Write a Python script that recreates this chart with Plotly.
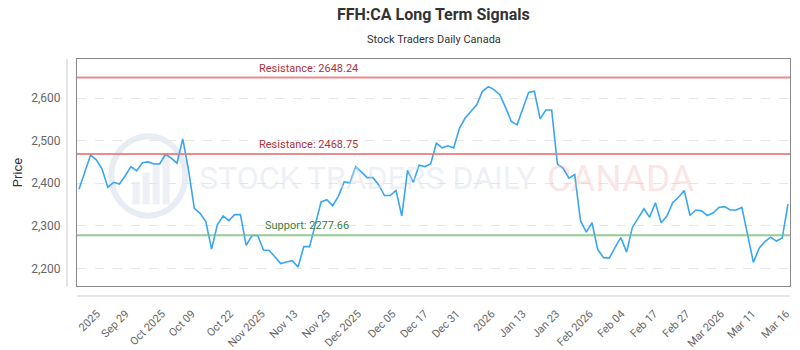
import plotly.graph_objects as go

# ---- data ----
prices = [2386, 2427, 2466, 2455, 2433, 2390, 2402, 2398, 2417, 2439,
          2429, 2448, 2450, 2445, 2445, 2468, 2459, 2447, 2504, 2431,
          2341, 2329, 2310, 2245, 2302, 2323, 2312, 2326, 2326, 2254,
          2277, 2277, 2243, 2242, 2227, 2211, 2215, 2218, 2203, 2251,
          2251, 2304, 2356, 2361, 2347, 2369, 2403, 2401, 2439, 2426,
          2413, 2413, 2396, 2371, 2371, 2383, 2323, 2430, 2402, 2442,
          2439, 2445, 2494, 2483, 2488, 2483, 2529, 2553, 2568, 2584,
          2616, 2627, 2620, 2608, 2578, 2545, 2537, 2576, 2613, 2616,
          2551, 2572, 2572, 2445, 2435, 2412, 2420, 2312, 2285, 2307,
          2244, 2225, 2224, 2249, 2272, 2238, 2296, 2318, 2340, 2320,
          2354, 2307, 2323, 2354, 2367, 2383, 2324, 2337, 2335, 2324,
          2330, 2343, 2345, 2337, 2337, 2343, 2278, 2214, 2247, 2263,
          2273, 2264, 2271, 2351]
idx = list(range(len(prices)))

tick_labels = ["2025", "Sep 29", "Oct 2025", "Oct 09", "Oct 22", "Nov 2025",
               "Nov 13", "Nov 25", "Dec 2025", "Dec 05", "Dec 17", "Dec 31",
               "2026", "Jan 13", "Jan 23", "Feb 2026", "Feb 04", "Feb 17",
               "Feb 27", "Mar 2026", "Mar 11", "Mar 16"]
tick_idx = [3.1, 8.1, 14.4, 19.6, 26.2, 31.7, 37.4, 43.0, 48.4, 54.4, 60.0,
            65.5, 71.6, 77.0, 82.8, 88.6, 94.1, 99.8, 105.4, 111.4, 116.8, 122.7]

resistance_hi = 2648.24
resistance_lo = 2468.75
support = 2277.66

TITLE_FONT = "Roboto, Liberation Sans, sans-serif"
BODY_FONT = "Roboto, Open Sans, Liberation Sans, sans-serif"
WM_FONT = "Roboto, sans-serif"

fig = go.Figure()
fig.add_trace(go.Scatter(x=idx, y=prices, mode="lines",
                         line=dict(color="#3aa6f2", width=1.6),
                         hoverinfo="skip", showlegend=False))

shapes = []
for lvl, col in [(resistance_hi, "rgba(232,120,120,0.85)"),
                 (resistance_lo, "rgba(232,120,120,0.85)"),
                 (support, "rgba(120,190,120,0.8)")]:
    shapes.append(dict(type="line", xref="paper", yref="y", x0=0, x1=1,
                       y0=lvl, y1=lvl, line=dict(color=col, width=2), layer="above"))
shapes.append(dict(type="line", xref="paper", yref="paper", x0=-0.014, x1=-0.014,
                   y0=-0.002, y1=1.0, line=dict(color="#cccccc", width=1)))
shapes.append(dict(type="line", xref="paper", yref="paper", x0=0, x1=1,
                   y0=-0.044, y1=-0.044, line=dict(color="#cccccc", width=1)))
shapes.append(dict(type="circle", xref="paper", yref="paper", x0=0.048, x1=0.152,
                   y0=0.31, y1=0.66, line=dict(color="rgba(205,213,230,0.45)", width=6),
                   layer="below"))
for bx, bh in [(0.078, 0.10), (0.092, 0.14), (0.106, 0.18), (0.120, 0.22)]:
    shapes.append(dict(type="rect", xref="paper", yref="paper", x0=bx, x1=bx + 0.01,
                       y0=0.36, y1=0.36 + bh, fillcolor="rgba(205,213,230,0.35)",
                       line=dict(width=0), layer="below"))

annotations = [
    dict(text="Resistance: 2648.24", xref="paper", yref="y", x=0.2525, y=resistance_hi,
         xanchor="left", yanchor="bottom", yshift=1, showarrow=False,
         font=dict(family=BODY_FONT, size=11, color="#b0323a")),
    dict(text="Resistance: 2468.75", xref="paper", yref="y", x=0.2525, y=resistance_lo,
         xanchor="left", yanchor="bottom", yshift=1, showarrow=False,
         font=dict(family=BODY_FONT, size=11, color="#b0323a")),
    dict(text="Support: 2277.66", xref="paper", yref="y", x=0.261, y=support,
         xanchor="left", yanchor="bottom", yshift=1, showarrow=False,
         font=dict(family=BODY_FONT, size=11, color="#3d7f3d")),
    dict(text="STOCK TRADERS DAILY", xref="paper", yref="paper", x=0.407, y=0.475,
         xanchor="center", yanchor="middle", showarrow=False,
         font=dict(family=WM_FONT, size=32, color="rgba(215,222,235,0.45)")),
    dict(text="CANADA", xref="paper", yref="paper", x=0.762, y=0.475,
         xanchor="center", yanchor="middle", showarrow=False,
         font=dict(family=WM_FONT, size=37, color="rgba(245,180,180,0.35)")),
    dict(text="<b>FFH:CA Long Term Signals</b>", xref="paper", yref="paper",
         x=0.5, y=1.194, xanchor="center", yanchor="middle", showarrow=False,
         font=dict(family=TITLE_FONT, size=16, color="#333333")),
    dict(text="Stock Traders Daily Canada", xref="paper", yref="paper",
         x=0.5, y=1.088, xanchor="center", yanchor="middle", showarrow=False,
         font=dict(family=TITLE_FONT, size=11, color="#333333")),
]

fig.update_layout(
    width=800, height=350,
    margin=dict(l=77, r=10, t=59, b=64, autoexpand=False),
    paper_bgcolor="white", plot_bgcolor="white",
    shapes=shapes,
    annotations=annotations,
    xaxis=dict(range=[-0.35, 123.35], tickmode="array", tickvals=tick_idx,
               ticktext=tick_labels, tickangle=-45, showgrid=False, zeroline=False,
               showline=True, mirror=True, linecolor="#888888", linewidth=1,
               ticks="outside", ticklen=16, tickcolor="rgba(0,0,0,0)", automargin=False,
               tickfont=dict(family=BODY_FONT, size=11, color="#666666")),
    yaxis=dict(range=[2158.4, 2691.8], tickvals=[2200, 2300, 2400, 2500, 2600],
               tickformat=",d", showgrid=True, gridcolor="#e6e6e6", griddash="dash",
               zeroline=False, showline=True, mirror=True, linecolor="#888888",
               linewidth=1, ticks="outside", ticklen=13, tickcolor="rgba(0,0,0,0)",
               automargin=False,
               tickfont=dict(family=BODY_FONT, size=12, color="#666666"),
               title=dict(text="Price", standoff=5,
                          font=dict(family=BODY_FONT, size=13, color="#333333"))),
)

fig.write_html("out.html")
